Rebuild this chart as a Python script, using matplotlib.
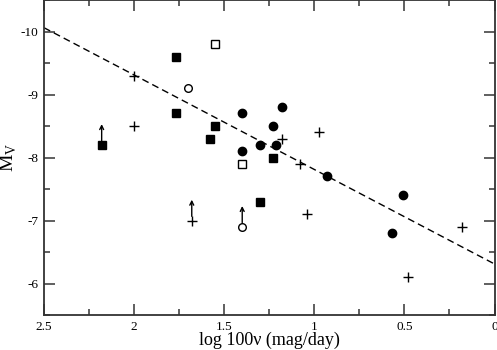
import matplotlib
matplotlib.use("Agg")
import matplotlib.pyplot as plt
from matplotlib.ticker import MultipleLocator

plt.rcParams["font.family"] = ["Liberation Serif", "DejaVu Serif"]

# Filled squares
sq_x = [1.77, 1.77, 1.55, 1.58, 2.18, 1.23, 1.30]
sq_y = [-9.6, -8.7, -8.5, -8.3, -8.2, -8.0, -7.3]

# Open squares
osq_x = [1.55, 1.40]
osq_y = [-9.8, -7.9]

# Filled circles
ci_x = [1.40, 1.40, 1.18, 1.23, 1.30, 1.21, 0.93, 0.51, 0.57]
ci_y = [-8.7, -8.1, -8.8, -8.5, -8.2, -8.2, -7.7, -7.4, -6.8]

# Open circles
oci_x = [1.70, 1.40]
oci_y = [-9.1, -6.9]

# Plus signs
pl_x = [2.00, 2.00, 0.975, 1.18, 1.08, 1.04, 1.68, 0.18, 0.48]
pl_y = [-9.3, -8.5, -8.4, -8.3, -7.9, -7.1, -7.0, -6.9, -6.1]

# Lower limits (arrows pointing brighter)
lim_x = [2.18, 1.68, 1.40]
lim_y = [-8.2, -7.0, -6.9]
arrow_len = 0.33

# Fit: M_V = a + b * x
fit_a = -6.31
fit_b = -1.5
fit_x = [2.5, 0.0]

fig = plt.figure(figsize=(4.97, 3.5), dpi=100)
ax = fig.add_axes([44 / 497, 35 / 350, 450.5 / 497, 315 / 350])

ax.plot(fit_x, [fit_a + fit_b * v for v in fit_x], color="black", lw=1.0,
        dashes=(5, 3))

ax.plot(sq_x, sq_y, "s", color="black", ms=5.5, ls="none")
ax.plot(osq_x, osq_y, "s", mfc="white", mec="black", mew=1.0, ms=6, ls="none")
ax.plot(ci_x, ci_y, "o", color="black", ms=6, ls="none")
ax.plot(oci_x, oci_y, "o", mfc="white", mec="black", mew=1.0, ms=5.5, ls="none")
ax.plot(pl_x, pl_y, "+", color="black", ms=6.5, mew=1.0, ls="none")

for x, y in zip(lim_x, lim_y):
    ax.annotate("", xy=(x, y - arrow_len), xytext=(x, y),
                arrowprops=dict(arrowstyle="->", color="black", lw=1.0,
                                shrinkA=3, shrinkB=0,
                                mutation_scale=7))

ax.set_xlim(2.5, 0)
ax.set_ylim(-5.5, -10.5)

ax.xaxis.set_major_locator(MultipleLocator(0.5))
ax.xaxis.set_minor_locator(MultipleLocator(0.25))
ax.yaxis.set_major_locator(MultipleLocator(1))
ax.yaxis.set_minor_locator(MultipleLocator(0.5))
ax.xaxis.set_major_formatter(plt.FuncFormatter(lambda v, p: f"{v:g}"))
ax.yaxis.set_major_formatter(plt.FuncFormatter(lambda v, p: f"{v:g}"))

ax.tick_params(which="both", direction="in", top=True, right=True,
               labelsize=9.5, width=1.2, color="#444444")
ax.tick_params(which="major", length=8, pad=4)
ax.tick_params(which="minor", length=4)
for s in ax.spines.values():
    s.set_linewidth(1.3)
    s.set_color("#333333")

ax.set_xlabel("log 100\u03bd (mag/day)", fontsize=13)
ax.xaxis.set_label_coords(0.5, -0.052)
ax.set_ylabel("M$_\\mathregular{V}$", fontsize=14)
ax.yaxis.set_label_coords(-0.055, 0.5)

fig.savefig("out.png", dpi=100)
